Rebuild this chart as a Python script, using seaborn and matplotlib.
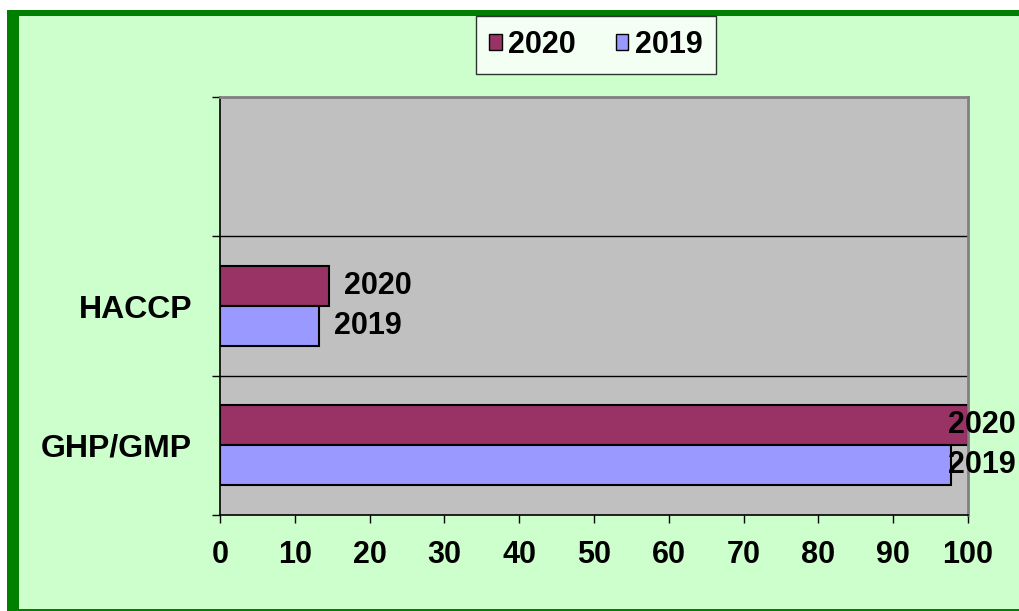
import matplotlib
matplotlib.use("Agg")
import matplotlib.pyplot as plt
import matplotlib.patches as mpatches
import pandas as pd
import seaborn as sns

categories = ["HACCP", "GHP/GMP"]
years = ["2020", "2019"]
values_2020 = [14.6, 100.0]
values_2019 = [13.2, 97.7]
x_ticks = list(range(0, 101, 10))

df = pd.DataFrame({
    "category": categories * 2,
    "year": ["2020"] * len(categories) + ["2019"] * len(categories),
    "value": values_2020 + values_2019,
})

sns.set_theme(style="white")
plt.rcParams["font.family"] = ["Liberation Sans", "DejaVu Sans"]
plt.rcParams["font.weight"] = "bold"
plt.rcParams["text.color"] = "black"
plt.rcParams["xtick.color"] = "black"
plt.rcParams["ytick.color"] = "black"
plt.rcParams["xtick.labelcolor"] = "black"
plt.rcParams["ytick.labelcolor"] = "black"

W, H = 1019, 611
fig = plt.figure(figsize=(W / 100, H / 100), dpi=100)
fig.patch.set_facecolor("white")

# green frame (left + top thick, bottom thin)
green = "#008000"
fig.patches.append(mpatches.Rectangle((7 / W, 0), 1 - 7 / W, 1 - 10 / H,
                                      transform=fig.transFigure, facecolor=green,
                                      edgecolor="none", zorder=-3))
fig.patches.append(mpatches.Rectangle((19 / W, 2 / H), 1 - 19 / W, 1 - 18 / H,
                                      transform=fig.transFigure, facecolor="#CCFFCC",
                                      edgecolor="none", zorder=-2))

ax = fig.add_axes([220 / W, 1 - 515 / H, 748 / W, 418 / H])
ax.set_facecolor("#C0C0C0")

palette = {"2020": "#993366", "2019": "#9999FF"}
sns.barplot(data=df, x="value", y="category", hue="year", order=categories,
            hue_order=years, palette=palette, orient="h", width=0.575,
            edgecolor="black", linewidth=1.5, saturation=1, ax=ax, legend=False)

ax.set_xlim(0, 100)
ax.set_ylim(1.5, -1.5)
ax.set_xlabel("")
ax.set_ylabel("")

# horizontal gridlines between category slots
for yb in [-0.5, 0.5]:
    ax.axhline(yb, color="black", linewidth=1, zorder=0.5)

ax.set_xticks(x_ticks)
ax.set_xticklabels([str(t) for t in x_ticks], fontsize=22, fontweight="bold",
                   color="black")
ax.tick_params(axis="x", bottom=True, direction="out", length=6, width=1,
               color="black", pad=12)

ax.set_yticks(range(len(categories)))
ax.set_yticklabels(categories, fontsize=23, fontweight="bold", color="black")
ax.set_yticks([-1.5, -0.5, 0.5, 1.5], minor=True)
ax.tick_params(axis="y", which="major", left=False, length=0, pad=20)
ax.tick_params(axis="y", which="minor", left=True, direction="out", length=6,
               width=1, color="black")

for side in ["top", "right"]:
    ax.spines[side].set_color("#808080")
    ax.spines[side].set_linewidth(2)
for side in ["left", "bottom"]:
    ax.spines[side].set_color("black")
    ax.spines[side].set_linewidth(1.2)

# value labels (year names) next to each bar
offset = 0.575 / 4
for i, cat in enumerate(categories):
    for year, vals, dy in [("2020", values_2020, -offset), ("2019", values_2019, offset)]:
        xv = min(vals[i] + 2, 97.3)
        ax.text(xv, i + dy, year, ha="left", va="center", fontsize=22,
                fontweight="bold", color="black", clip_on=False)

handles = [mpatches.Patch(facecolor=palette[y], edgecolor="black", label=y) for y in years]
leg = fig.legend(handles=handles, loc="upper center",
                 bbox_to_anchor=(596 / W, 1 - 16 / H), ncol=2, frameon=True,
                 fancybox=False, prop={"size": 22, "weight": "bold"},
                 handlelength=0.4, handleheight=0.4, handletextpad=0.22,
                 columnspacing=1.3, borderpad=0.45, borderaxespad=0)
leg.get_frame().set_edgecolor("black")
leg.get_frame().set_facecolor("white")
leg.get_frame().set_linewidth(1)
for t in leg.get_texts():
    t.set_color("black")

fig.savefig("out.png", dpi=100)
